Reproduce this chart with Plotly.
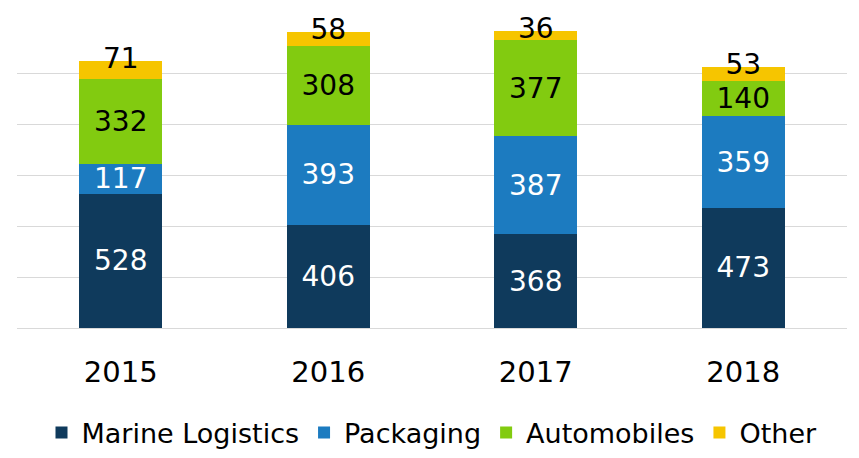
import plotly.graph_objects as go

years = ["2015", "2016", "2017", "2018"]
marine = [528, 406, 368, 473]
packaging = [117, 393, 387, 359]
automobiles = [332, 308, 377, 140]
other = [71, 58, 36, 53]

series = [
    ("Marine Logistics", marine, "#0f3a5c", "white"),
    ("Packaging", packaging, "#1c7bc0", "white"),
    ("Automobiles", automobiles, "#82cb10", "black"),
    ("Other", other, "#f6c500", "black"),
]

FONT = "DejaVu Sans, sans-serif"

fig = go.Figure()
for name, vals, color, txtcolor in series:
    is_top = name == "Other"
    fig.add_trace(go.Bar(
        x=years,
        y=vals,
        name=name,
        marker_color=color,
        marker_line_width=0,
        text=None if is_top else vals,
        textposition="none" if is_top else "inside",
        insidetextanchor="middle",
        textfont=dict(size=28, color=txtcolor),
        cliponaxis=False,
    ))

# "Other" values are written at the top of each stack
totals = [m + p + a + o for m, p, a, o in zip(marine, packaging, automobiles, other)]
fig.add_trace(go.Scatter(
    x=years, y=totals, text=other, mode="text",
    textposition="middle center",
    textfont=dict(size=28, color="black", family=FONT),
    showlegend=False, hoverinfo="skip", cliponaxis=False,
))

fig.update_layout(
    barmode="stack",
    bargap=0.6,
    width=859,
    height=458,
    margin=dict(l=9, r=20, t=14, b=132),
    plot_bgcolor="white",
    paper_bgcolor="white",
    font=dict(family=FONT, size=28, color="black"),
    uniformtext=dict(minsize=28, mode="show"),
    showlegend=True,
    legend=dict(
        orientation="h",
        traceorder="normal",
        x=0.5, xanchor="center",
        y=-0.423, yanchor="bottom",
        font=dict(size=27, color="black"),
        itemwidth=30,
    ),
)
fig.update_xaxes(type="category", showgrid=False, showline=False, ticks="",
                 ticklabelstandoff=24, tickfont=dict(size=29))
fig.update_yaxes(
    range=[0, 1203], dtick=200, showticklabels=False,
    showgrid=True, gridcolor="#d9d9d9", gridwidth=1,
    zeroline=True, zerolinecolor="#d9d9d9", zerolinewidth=1,
)

fig.write_html("out.html")
